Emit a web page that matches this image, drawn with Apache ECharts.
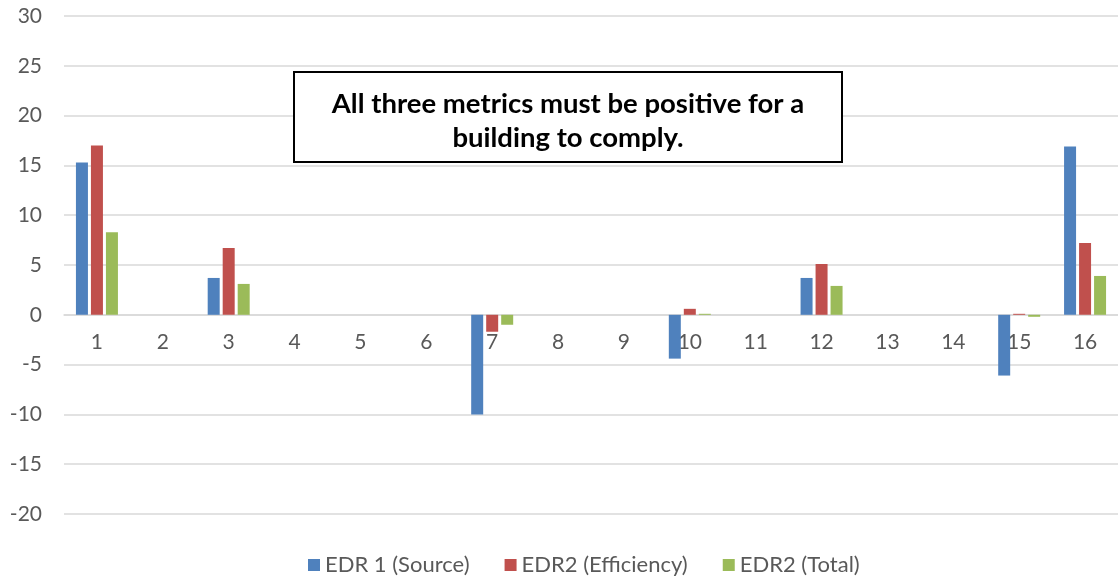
<!DOCTYPE html>
<html>
<head>
<meta charset="utf-8">
<script src="https://cdn.jsdelivr.net/npm/echarts@6/dist/echarts.min.js"></script>
<style>
  html, body { margin: 0; padding: 0; background: #fff; }
  #chart { width: 1118px; height: 578px; }
</style>
</head>
<body>
<div id="chart"></div>
<script>
// data
var categories = ['1', '2', '3', '4', '5', '6', '7', '8', '9', '10', '11', '12', '13', '14', '15', '16'];
var edr1Source = [15.3, 0, 3.7, 0, 0, 0, -10, 0, 0, -4.4, 0, 3.7, 0, 0, -6.1, 16.9];
var edr2Efficiency = [17.0, 0, 6.7, 0, 0, 0, -1.7, 0, 0, 0.6, 0, 5.1, 0, 0, 0.1, 7.2];
var edr2Total = [8.3, 0, 3.1, 0, 0, 0, -1.0, 0, 0, 0.1, 0, 2.9, 0, 0, -0.2, 3.9];
var yTicks = { min: -20, max: 30, step: 5 };
var noteText = 'All three metrics must be positive for a\nbuilding to comply.';

var chart = echarts.init(document.getElementById('chart'));
var font = 'Lato, "Open Sans", sans-serif';
var gridHeight = 498;

// the category axis sits on the zero line, so shift it up from the bottom
var zeroOffset = -gridHeight * (0 - yTicks.min) / (yTicks.max - yTicks.min);

var barStyle = function (name, color, data) {
    return {
        name: name,
        type: 'bar',
        data: data,
        barWidth: 12,
        barGap: '25%',
        itemStyle: { color: color },
        emphasis: { disabled: true }
    };
};

chart.setOption({
    animation: false,
    textStyle: { fontFamily: font },
    grid: { left: 64, top: 16, width: 1064, height: gridHeight },
    xAxis: {
        type: 'category',
        data: categories,
        offset: zeroOffset,
        axisLine: { onZero: false, lineStyle: { color: '#d9d9d9', width: 1.5 } },
        axisTick: { show: false },
        axisLabel: { color: '#595959', fontSize: 21, margin: 17, fontFamily: font }
    },
    yAxis: {
        type: 'value',
        min: yTicks.min,
        max: yTicks.max,
        interval: yTicks.step,
        axisLine: { show: false },
        axisTick: { show: false },
        axisLabel: { color: '#595959', fontSize: 21, margin: 22, fontFamily: font },
        splitLine: { lineStyle: { color: '#d9d9d9', width: 1.5 } }
    },
    legend: {
        top: 549,
        left: 303,
        itemWidth: 12,
        itemHeight: 12,
        itemGap: 35,
        icon: 'rect',
        textStyle: { color: '#595959', fontSize: 22, fontFamily: font },
        data: ['EDR 1 (Source)', 'EDR2 (Efficiency)', 'EDR2 (Total)']
    },
    graphic: [{
        type: 'group',
        left: 293,
        top: 71,
        z: 100,
        children: [{
            type: 'rect',
            z: 100,
            shape: { x: 0, y: 0, width: 548, height: 90 },
            style: { fill: '#fff', stroke: '#000', lineWidth: 2 }
        }, {
            type: 'text',
            z: 101,
            x: 274,
            y: 49,
            style: {
                text: noteText,
                fill: '#000',
                font: 'bold 27.5px ' + font,
                align: 'center',
                verticalAlign: 'middle',
                lineHeight: 34
            }
        }]
    }],
    series: [
        barStyle('EDR 1 (Source)', '#4f81bd', edr1Source),
        barStyle('EDR2 (Efficiency)', '#c0504d', edr2Efficiency),
        barStyle('EDR2 (Total)', '#9bbb59', edr2Total)
    ]
});
</script>
</body>
</html>
